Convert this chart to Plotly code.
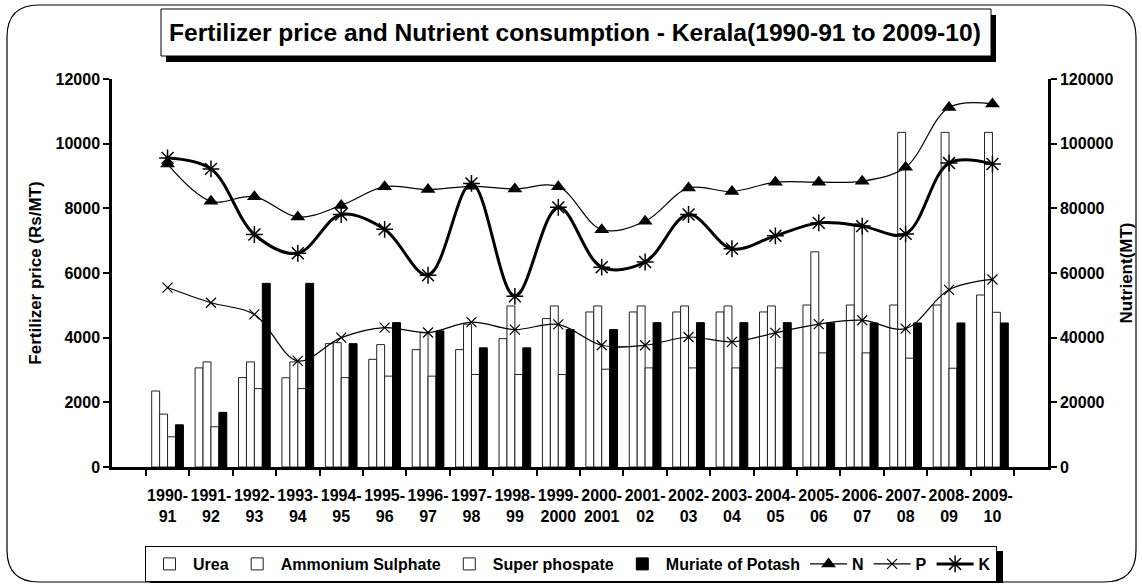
import plotly.graph_objects as go

# ---------------- data ----------------
year_start = ["1990-", "1991-", "1992-", "1993-", "1994-", "1995-", "1996-", "1997-", "1998-", "1999-",
              "2000-", "2001-", "2002-", "2003-", "2004-", "2005-", "2006-", "2007-", "2008-", "2009-"]
year_end = ["91", "92", "93", "94", "95", "96", "97", "98", "99", "2000",
            "2001", "02", "03", "04", "05", "06", "07", "08", "09", "10"]

urea = [2350, 3065, 2765, 2760, 3815, 3330, 3630, 3630, 3970, 4590,
        4795, 4795, 4795, 4795, 4795, 5010, 5010, 5010, 5010, 5320]
ammonium_sulphate = [1635, 3250, 3250, 3250, 3845, 3785, 4155, 4415, 4980, 4980,
                     4980, 4980, 4980, 4980, 4980, 6656, 7520, 10350, 10350, 10350]
super_phosphate = [935, 1245, 2425, 2425, 2765, 2810, 2810, 2860, 2860, 2860,
                   3025, 3065, 3065, 3065, 3065, 3530, 3530, 3365, 3055, 4785]
muriate_potash = [1305, 1690, 5680, 5680, 3815, 4465, 4210, 3685, 3685, 4250,
                  4250, 4465, 4465, 4465, 4465, 4455, 4455, 4455, 4455, 4455]

n_cons = [93700, 82200, 83600, 77300, 80900, 86700, 85800, 86800, 86000, 86700,
          73400, 76000, 86300, 85200, 88100, 88100, 88400, 92700, 111200, 112300]
p_cons = [55500, 50800, 47200, 32800, 40000, 43100, 41600, 44800, 42500, 44100,
          37650, 37650, 40200, 38700, 41500, 44200, 45400, 42800, 54800, 58000]
k_cons = [95600, 92200, 71900, 66100, 78100, 73500, 59300, 87700, 52800, 80300,
          61800, 63400, 78100, 67500, 71500, 75500, 74500, 72100, 94000, 93700]

price_ticks = [0, 2000, 4000, 6000, 8000, 10000, 12000]
nutrient_ticks = [0, 20000, 40000, 60000, 80000, 100000, 120000]

categories = [f"{a}<br>{b}" for a, b in zip(year_start, year_end)]

# ---------------- figure ----------------
W, H = 1142, 588
L, R, T, B = 112, 94, 79, 121
PW, PH = W - L - R, H - T - B
FONT = "Liberation Sans, Arial, sans-serif"


def px(x):
    return (x - L) / PW


def py(y):
    return (H - B - y) / PH


fig = go.Figure()

bar_line = dict(color="#222222", width=1)
fig.add_trace(go.Bar(x=categories, y=urea, name="Urea",
                     marker=dict(color="white", line=bar_line)))
fig.add_trace(go.Bar(x=categories, y=ammonium_sulphate, name="Ammonium Sulphate",
                     marker=dict(color="white", line=bar_line)))
fig.add_trace(go.Bar(x=categories, y=super_phosphate, name="Super phospate",
                     marker=dict(color="white", line=bar_line)))
fig.add_trace(go.Bar(x=categories, y=muriate_potash, name="Muriate of Potash",
                     marker=dict(color="black", line=dict(color="black", width=1))))

fig.add_trace(go.Scatter(x=categories, y=n_cons, name="N", yaxis="y2",
                         mode="lines+markers",
                         line=dict(color="black", width=1.2, shape="spline", smoothing=1),
                         marker=dict(symbol="triangle-up", size=13, color="black")))
fig.add_trace(go.Scatter(x=categories, y=p_cons, name="P", yaxis="y2",
                         mode="lines+markers",
                         line=dict(color="black", width=1.2, shape="spline", smoothing=1),
                         marker=dict(symbol="x-thin", size=10, color="black",
                                     line=dict(color="black", width=1.2))))
fig.add_trace(go.Scatter(x=categories, y=k_cons, name="K", yaxis="y2",
                         mode="lines+markers",
                         line=dict(color="black", width=3, shape="spline", smoothing=1),
                         marker=dict(symbol="asterisk", size=14, color="black",
                                     line=dict(color="black", width=1.5))))


def rounded_rect(x0, y0, x1, y1, r):
    pts = []
    pts.append(f"M{px(x0 + r)},{py(y0)}")
    pts.append(f"L{px(x1 - r)},{py(y0)}")
    pts.append(f"Q{px(x1)},{py(y0)} {px(x1)},{py(y0 + r)}")
    pts.append(f"L{px(x1)},{py(y1 - r)}")
    pts.append(f"Q{px(x1)},{py(y1)} {px(x1 - r)},{py(y1)}")
    pts.append(f"L{px(x0 + r)},{py(y1)}")
    pts.append(f"Q{px(x0)},{py(y1)} {px(x0)},{py(y1 - r)}")
    pts.append(f"L{px(x0)},{py(y0 + r)}")
    pts.append(f"Q{px(x0)},{py(y0)} {px(x0 + r)},{py(y0)}")
    pts.append("Z")
    return " ".join(pts)


LEG_X0, LEG_Y0, LEG_W, LEG_H = 145, 546, 853, 32

shapes = [
    # chart border
    dict(type="path", xref="paper", yref="paper", path=rounded_rect(7, 5, 1136, 582, 32),
         line=dict(color="black", width=1.2), fillcolor="rgba(0,0,0,0)", layer="below"),
    # title shadow
    dict(type="rect", xref="paper", yref="paper",
         x0=px(166), x1=px(996), y0=py(15), y1=py(62),
         line=dict(width=0), fillcolor="black", layer="above"),
    # title box
    dict(type="rect", xref="paper", yref="paper",
         x0=px(161), x1=px(991), y0=py(9), y1=py(56),
         line=dict(color="black", width=1), fillcolor="white", layer="above"),
    # legend shadow
    dict(type="rect", xref="paper", yref="paper",
         x0=px(LEG_X0 + 5), x1=px(LEG_X0 + LEG_W + 5),
         y0=py(LEG_Y0 + 5), y1=py(LEG_Y0 + LEG_H + 5),
         line=dict(width=0), fillcolor="black", layer="above"),
]

fig.update_layout(
    width=W, height=H,
    margin=dict(l=L, r=R, t=T, b=B, autoexpand=False),
    paper_bgcolor="white", plot_bgcolor="white",
    font=dict(family=FONT, size=16, color="black", weight="bold"),
    barmode="group", bargap=0.27, bargroupgap=0,
    showlegend=True,
    legend=dict(orientation="h", x=px(LEG_X0), y=py(LEG_Y0), xanchor="left", yanchor="top",
                bgcolor="white", bordercolor="black", borderwidth=1,
                font=dict(family=FONT, size=16, color="black", weight="bold"),
                itemwidth=37, tracegroupgap=0),
    shapes=shapes,
    annotations=[dict(text="Fertilizer price and Nutrient consumption - Kerala(1990-91 to 2009-10)",
                      xref="paper", yref="paper", x=px(575), y=py(32.5),
                      xanchor="center", yanchor="middle", showarrow=False,
                      font=dict(family=FONT, size=24.6, color="black", weight="bold"))],
    xaxis=dict(type="category", tickson="boundaries", ticks="outside", ticklen=6,
               tickangle=0, tickwidth=2, tickcolor="black", showline=True, linecolor="black",
               linewidth=2.5, showgrid=False, zeroline=False, ticklabelstandoff=12,
               tickfont=dict(family=FONT, size=16, weight="bold")),
    yaxis=dict(range=[0, 12000], tickvals=price_ticks, tickformat="d", ticks="outside",
               ticklen=6, tickwidth=2, tickcolor="black", showline=True, linecolor="black",
               linewidth=2.5, showgrid=False, zeroline=False,
               tickfont=dict(family=FONT, size=16, weight="bold"),
               title=dict(text="Fertilizer price (Rs/MT)", standoff=10,
                          font=dict(family=FONT, size=17, weight="bold"))),
    yaxis2=dict(range=[0, 120000], tickvals=nutrient_ticks, tickformat="d", overlaying="y",
                side="right", ticks="outside", ticklen=6, tickwidth=2, tickcolor="black",
                showline=True, linecolor="black", linewidth=2.5, showgrid=False,
                zeroline=False, tickfont=dict(family=FONT, size=16, weight="bold"),
                title=dict(text="Nutrient(MT)", standoff=8,
                           font=dict(family=FONT, size=17, weight="bold"))),
)

fig.write_html("out.html", config={"displayModeBar": False},
               post_script="document.body.style.margin='0px';")
